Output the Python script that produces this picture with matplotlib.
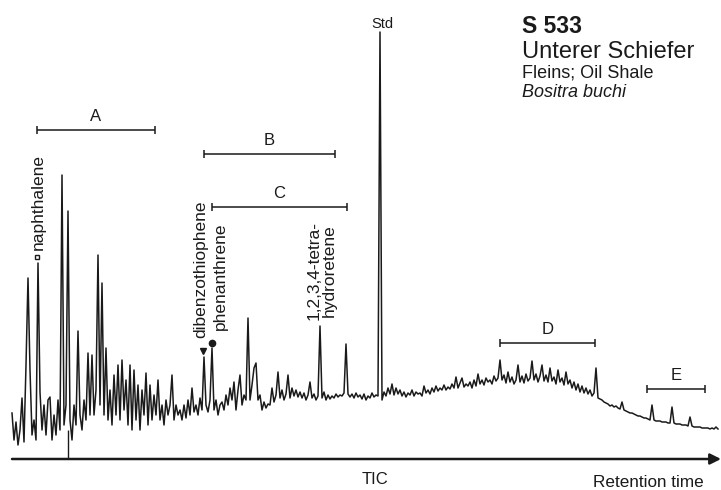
import numpy as np
import matplotlib
matplotlib.use("Agg")
import matplotlib.pyplot as plt

plt.rcParams['font.family'] = ['Liberation Sans', 'DejaVu Sans']

# TIC trace, one value every 2 retention units
retention_start = 12
retention_step = 2
tic = [
    47, 20, 38, 15, 30, 62, 18, 95, 182, 90,
    25, 40, 20, 197, 68, 30, 55, 25, 60, 63,
    20, 45, 25, 60, 30, 285, 35, 55, 249, 40,
    20, 55, 35, 129, 45, 30, 60, 40, 107, 45,
    105, 45, 70, 205, 55, 177, 45, 112, 40, 70,
    35, 85, 45, 95, 40, 100, 50, 80, 35, 95,
    30, 90, 40, 75, 30, 70, 45, 87, 35, 75,
    40, 65, 45, 80, 40, 55, 35, 60, 45, 55,
    85, 40, 55, 45, 50, 40, 55, 42, 60, 45,
    72, 48, 55, 45, 62, 50, 103, 55, 48, 60,
    112, 50, 60, 45, 55, 58, 50, 65, 55, 72,
    60, 78, 50, 70, 85, 55, 65, 60, 142, 60,
    75, 92, 97, 60, 65, 50, 58, 52, 56, 55,
    72, 58, 65, 88, 62, 70, 60, 66, 85, 62,
    72, 64, 70, 63, 68, 62, 67, 60, 65, 78,
    62, 66, 60, 64, 134, 62, 68, 60, 65, 61,
    64, 62, 66, 63, 65, 64, 67, 116, 66, 63,
    66, 62, 67, 63, 65, 61, 66, 60, 64, 62,
    67, 63, 65, 64, 428, 60, 68, 64, 72, 66,
    76, 65, 72, 66, 70, 64, 68, 63, 67, 65,
    70, 64, 68, 66, 67, 64, 74, 67, 70, 66,
    72, 68, 74, 69, 72, 70, 75, 70, 73, 71,
    76, 72, 83, 72, 77, 82, 73, 76, 74, 78,
    72, 80, 74, 86, 76, 80, 75, 82, 78, 80,
    76, 84, 79, 82, 100, 80, 85, 77, 88, 78,
    83, 76, 80, 95, 78, 84, 77, 86, 79, 82,
    99, 80, 86, 78, 84, 95, 79, 85, 78, 92,
    79, 83, 76, 90, 78, 82, 75, 88, 76, 80,
    72, 78, 70, 76, 68, 74, 67, 72, 66, 70,
    64, 67, 92, 62, 61, 60, 58, 57, 56, 54,
    55, 53, 54, 52, 51, 58, 50, 49, 48, 47,
    47, 46, 45, 44, 44, 43, 42, 42, 41, 40,
    55, 40, 39, 39, 39, 38, 38, 38, 37, 37,
    53, 37, 36, 36, 36, 35, 35, 35, 34, 43,
    34, 33, 33, 33, 33, 32, 32, 32, 32, 31,
    32, 31, 33, 31,
]

# compound groups (start, end) in retention units
group_names = ['A', 'B', 'C', 'D', 'E']
group_start = [37, 204, 212, 500, 647]
group_end = [155, 335, 347, 595, 705]
group_level = [330, 306, 253, 117, 71]

# labelled peaks
peak_names = ['naphthalene', 'dibenzothiophene', 'phenanthrene', '1,2,3,4-tetra-\nhydroretene', 'Std']
peak_times = [38, 204, 212, 320, 380]

time = retention_start + retention_step * np.arange(len(tic))
tic = np.array(tic)

fig = plt.figure(figsize=(7.21, 4.9), dpi=100)
ax = fig.add_axes([0, 0, 1, 1])
ax.set_xlim(0, 721)
ax.set_ylim(-30, 460)
ax.axis('off')

ink = '#1a1a1a'
ax.plot(time, tic, color=ink, lw=1.1)
# short drop line under the big early peak
ax.vlines(68, 1, 30, color=ink, lw=1.0)

# retention-time axis
ax.annotate('', xy=(721, 1), xytext=(12, 1),
            arrowprops=dict(arrowstyle='-|>', lw=1.8, color=ink, mutation_scale=16,
                            shrinkA=0, shrinkB=0))
ax.text(375, -24, 'TIC', ha='center', va='baseline', fontsize=12, color=ink)
ax.text(648, -27, 'Retention time', ha='center', va='baseline', fontsize=12.3, color=ink)

# group brackets
for name, x0, x1, lev in zip(group_names, group_start, group_end, group_level):
    ax.hlines(lev, x0, x1, color=ink, lw=1.1)
    ax.vlines([x0, x1], lev - 4, lev + 4, color=ink, lw=1.1)
    ax.text((x0 + x1) / 2, lev + 6, name, ha='center', va='bottom', fontsize=12, color=ink)

# peak labels
lab = 12.5
ax.text(peak_times[0], 210, peak_names[0], rotation=90, ha='center', va='bottom', fontsize=lab, color=ink)
ax.plot(peak_times[0] - 1, 203, marker='s', ms=3.5, mfc='white', mec=ink, mew=1.0)
ax.text(peak_times[1] - 3, 122, peak_names[1], rotation=90, ha='center', va='bottom', fontsize=lab, color=ink)
ax.plot(peak_times[1] - 1, 109, marker='v', ms=4.5, color=ink)
ax.text(peak_times[2] + 8, 130, peak_names[2], rotation=90, ha='center', va='bottom', fontsize=lab, color=ink)
ax.plot(peak_times[2], 117, marker='o', ms=4.5, color=ink)
ax.text(peak_times[3] + 2, 140, peak_names[3], rotation=90, ha='center', va='bottom',
        multialignment='center', fontsize=lab, color=ink, linespacing=1.0)
ax.text(peak_times[4] + 2, 432, peak_names[4], ha='center', va='baseline', fontsize=10.5, color=ink)

# sample info
ax.text(522, 427, 'S 533', ha='left', va='baseline', fontsize=16.5, fontweight='bold', color=ink)
ax.text(522, 402, 'Unterer Schiefer', ha='left', va='baseline', fontsize=17, color=ink)
ax.text(522, 383, 'Fleins; Oil Shale', ha='left', va='baseline', fontsize=13, color=ink)
ax.text(522, 363, 'Bositra buchi', ha='left', va='baseline', fontsize=13, style='italic', color=ink)

fig.savefig('out.png', dpi=100)
